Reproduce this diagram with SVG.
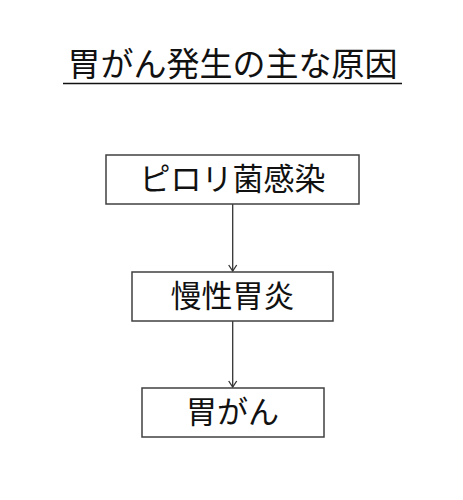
<svg xmlns="http://www.w3.org/2000/svg" width="463" height="500" viewBox="0 0 463 500">
<style>
text{font-family:"Noto Sans CJK JP","Noto Sans CJK SC",sans-serif;font-weight:400;fill:#111;text-anchor:middle}
.box{fill:#fff;stroke:#404040;stroke-width:1.5}
.conn{stroke:#333;stroke-width:1.3;fill:none}
</style>
<defs>
<marker id="arr" markerWidth="10" markerHeight="10" refX="7" refY="5" orient="auto" markerUnits="userSpaceOnUse">
<path d="M1,1 L7,5 L1,9" fill="none" stroke="#333" stroke-width="1.3"/>
</marker>
</defs>
<rect width="463" height="500" fill="#fff"/>
<g id="title">
<text x="232.5" y="76" font-size="33">胃がん発生の主な原因</text>
<line x1="63" y1="83.5" x2="402" y2="83.5" stroke="#111" stroke-width="1.6"/>
</g>
<g id="connectors">
<line class="conn" x1="232.7" y1="204" x2="232.7" y2="271" marker-end="url(#arr)"/>
<line class="conn" x1="232.7" y1="321" x2="232.7" y2="387" marker-end="url(#arr)"/>
</g>
<g id="node1">
<rect class="box" x="106" y="155" width="253" height="49"/>
<text x="232.5" y="190" font-size="31">ピロリ菌感染</text>
</g>
<g id="node2">
<rect class="box" x="132" y="272" width="201" height="49"/>
<text x="232.5" y="307" font-size="31">慢性胃炎</text>
</g>
<g id="node3">
<rect class="box" x="142" y="388" width="182" height="49"/>
<text x="232.5" y="423" font-size="31">胃がん</text>
</g>
</svg>
